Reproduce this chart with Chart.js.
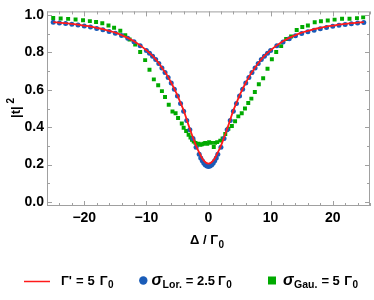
<!DOCTYPE html>
<html><head><meta charset="utf-8">
<script src="https://cdn.jsdelivr.net/npm/chart.js@4"></script>
<style>html,body{margin:0;padding:0;background:#fff}#c{display:block}</style>
</head><body>
<canvas id="c" width="374" height="300"></canvas>
<script>
// ---- data ----
const redX = [-25,-24,-23,-22,-21,-20,-19,-18,-17,-16,-15,-14,-13,-12,-11,-10,-9,-8,-7.5,-7,-6.5,-6,-5.5,-5,-4.5,-4,-3.5,-3,-2.5,-2,-1.5,-1,-0.5,0,0.5,1,1.5,2,2.5,3,3.5,4,4.5,5,5.5,6,6.5,7,7.5,8,9,10,11,12,13,14,15,16,17,18,19,20,21,22,23,24,25];
const redY = [0.963,0.96,0.957,0.953,0.949,0.944,0.939,0.932,0.925,0.916,0.906,0.893,0.878,0.86,0.838,0.812,0.782,0.742,0.718,0.695,0.668,0.638,0.605,0.57,0.53,0.49,0.44,0.39,0.345,0.30,0.265,0.232,0.212,0.205,0.212,0.232,0.265,0.30,0.345,0.39,0.44,0.49,0.53,0.57,0.605,0.638,0.668,0.695,0.718,0.742,0.782,0.812,0.838,0.86,0.878,0.893,0.906,0.916,0.925,0.932,0.939,0.944,0.949,0.953,0.957,0.96,0.963];

const blueX = [-25,-24,-23,-22,-21,-20,-19,-18,-17,-16,-15,-14,-13,-12,-11,-10,-9.5,-9,-8.5,-8,-7.5,-7,-6.5,-6,-5.5,-5,-4.5,-4,-3.5,-3,-2.5,-2,-1.5,-1.25,-1,-0.75,-0.5,-0.25,0,0.25,0.5,0.75,1,1.25,1.5,2,2.5,3,3.5,4,4.5,5,5.5,6,6.5,7,7.5,8,8.5,9,9.5,10,11,12,13,14,15,16,17,18,19,20,21,22,23,24,25];
const blueY = [0.962,0.958,0.955,0.951,0.947,0.942,0.936,0.929,0.922,0.913,0.903,0.891,0.876,0.858,0.836,0.81,0.796,0.78,0.762,0.741,0.717,0.693,0.666,0.636,0.603,0.567,0.527,0.486,0.436,0.386,0.34,0.293,0.255,0.235,0.22,0.207,0.197,0.192,0.19,0.192,0.197,0.207,0.22,0.235,0.255,0.293,0.34,0.386,0.436,0.486,0.527,0.567,0.603,0.636,0.666,0.693,0.717,0.741,0.762,0.78,0.796,0.81,0.836,0.856,0.874,0.889,0.902,0.911,0.919,0.927,0.934,0.94,0.946,0.95,0.954,0.958,0.961];

const greenX = [-25,-23.8,-22.6,-21.4,-20.2,-19.1,-18.1,-17.1,-16.1,-15.2,-14.2,-13.4,-12.7,-11.8,-11,-10.2,-9.5,-8.8,-8.1,-7.5,-7,-6.4,-5.8,-5.3,-4.9,-4.3,-4,-3.6,-3.2,-2.9,-2.65,-2.38,-2.1,-1.85,-1.6,-1.3,-1.06,-0.8,-0.53,-0.2,0.1,0.4,0.85,1.05,1.4,1.9,2.27,2.7,3.2,3.76,4.28,4.8,5.35,5.87,6.4,6.9,7.46,8.1,8.8,9.5,10.2,10.9,11.7,12.5,13.3,14.2,15.1,16,17.1,18.1,19.2,20.3,21.5,22.7,23.9,24.9];
const greenY = [0.985,0.982,0.98,0.977,0.973,0.968,0.963,0.957,0.945,0.933,0.916,0.892,0.869,0.843,0.803,0.759,0.708,0.656,0.625,0.593,0.562,0.52,0.484,0.475,0.449,0.42,0.397,0.38,0.36,0.345,0.333,0.323,0.316,0.306,0.311,0.306,0.308,0.311,0.316,0.311,0.32,0.316,0.294,0.316,0.32,0.328,0.34,0.363,0.392,0.406,0.432,0.458,0.475,0.50,0.53,0.553,0.588,0.63,0.662,0.713,0.764,0.803,0.834,0.872,0.886,0.92,0.936,0.945,0.962,0.967,0.971,0.976,0.981,0.981,0.984,0.988];

const xTicks = [-26,-24,-22,-20,-18,-16,-14,-12,-10,-8,-6,-4,-2,0,2,4,6,8,10,12,14,16,18,20,22,24,26];
const xLabels = [-20,-10,0,10,20];
const yTicks = [0,0.1,0.2,0.3,0.4,0.5,0.6,0.7,0.8,0.9,1.0];
const yLabels = [0,0.2,0.4,0.6,0.8,1.0];

const RED = '#ff1a1a', BLUE = '#1a5cb8', GREEN = '#00aa00';
const FONT = '"Liberation Sans", Arial, sans-serif';

function pts(xs, ys){ return xs.map((x,i)=>({x:x, y:ys[i]})); }
function isIn(arr, v){ return arr.some(a=>Math.abs(a-v)<1e-9); }

// sequential rich text: each piece followed by an extra gap
function rich(ctx, x, y, parts){
  let cx = x;
  for (const p of parts){
    ctx.font = (p.it?'italic ':'') + 'bold ' + p.s + 'px ' + FONT;
    ctx.fillText(p.t, cx, y + (p.dy||0));
    cx += ctx.measureText(p.t).width + (p.g||0);
  }
  return cx;
}

const decor = {
  id:'decor',
  afterDraw(chart){
    const ctx = chart.ctx, a = chart.chartArea;
    const xs = chart.scales.x, ys = chart.scales.y;
    ctx.save();
    ctx.strokeStyle = '#a0a0a0'; ctx.lineWidth = 1;
    ctx.strokeRect(a.left+0.5, a.top+0.5, a.right-a.left-1, a.bottom-a.top-1);
    ctx.beginPath();
    for (const v of xTicks){
      const px = Math.round(xs.getPixelForValue(v))+0.5;
      const L = isIn(xLabels,v) ? 5 : 3;
      ctx.moveTo(px, a.bottom); ctx.lineTo(px, a.bottom-L);
      ctx.moveTo(px, a.top); ctx.lineTo(px, a.top+L);
    }
    for (const v of yTicks){
      const py = Math.round(ys.getPixelForValue(v))+0.5;
      const L = isIn(yLabels,v) ? 5 : 3;
      ctx.moveTo(a.left, py); ctx.lineTo(a.left+L, py);
      ctx.moveTo(a.right, py); ctx.lineTo(a.right-L, py);
    }
    ctx.stroke();

    ctx.fillStyle = '#000'; ctx.textBaseline = 'alphabetic'; ctx.textAlign = 'left';
    // x title
    rich(ctx, 190, 244, [{t:'\u0394 / \u0393', s:13, g:0.5},{t:'0', s:10, dy:4}]);
    // y title
    ctx.save();
    ctx.translate(20, 118); ctx.rotate(-Math.PI/2);
    rich(ctx, 0, 0, [{t:'|t|', s:13, g:3},{t:'2', s:10, dy:-6}]);
    ctx.restore();

    // legend
    const ly = 285;
    ctx.strokeStyle = RED; ctx.lineWidth = 1.5;
    ctx.beginPath(); ctx.moveTo(24, 281.5); ctx.lineTo(50, 281.5); ctx.stroke();
    rich(ctx, 61, ly, [{t:'\u0393\'', s:13, g:4},{t:'=', s:13, g:4},{t:'5', s:13, g:5},{t:'\u0393', s:13, g:0.5},{t:'0', s:10, dy:3}]);
    ctx.fillStyle = BLUE;
    ctx.beginPath(); ctx.arc(143.3, 280.5, 4.2, 0, Math.PI*2); ctx.fill();
    ctx.fillStyle = '#000';
    rich(ctx, 151.5, ly, [{t:'\u03c3', s:16, it:true, g:0.5},{t:'Lor.', s:10.5, dy:3, g:4},{t:'=', s:13, g:3.5},{t:'2.5', s:13, g:3},{t:'\u0393', s:13, g:0.5},{t:'0', s:10, dy:3}]);
    ctx.fillStyle = GREEN;
    ctx.fillRect(268, 276.5, 8, 8);
    ctx.fillStyle = '#000';
    rich(ctx, 283, ly, [{t:'\u03c3', s:16, it:true, g:0.5},{t:'Gau.', s:10.5, dy:3, g:4},{t:'=', s:13, g:3.5},{t:'5', s:13, g:4.5},{t:'\u0393', s:13, g:0.5},{t:'0', s:10, dy:3}]);
    ctx.restore();
  }
};

new Chart(document.getElementById('c'), {
  type:'scatter',
  data:{ datasets:[
    { type:'line', label:'red', data:pts(redX, redY), borderColor:RED, borderWidth:1.8, pointRadius:0, fill:false, cubicInterpolationMode:'monotone' },
    { label:'blue', data:pts(blueX, blueY), backgroundColor:BLUE, borderColor:BLUE, borderWidth:0, pointRadius:2.5, pointStyle:'circle' },
    { label:'green', data:pts(greenX, greenY), backgroundColor:GREEN, borderColor:GREEN, borderWidth:0, pointRadius:2.8, pointStyle:'rect' }
  ]},
  options:{
    responsive:false, animation:false, events:[],
    layout:{ padding:{ left:0, right:1, top:5, bottom:0 } },
    plugins:{ legend:{display:false}, tooltip:{enabled:false} },
    scales:{
      x:{ type:'linear', min:-26, max:26,
          grid:{display:false, drawTicks:false}, border:{display:false},
          afterBuildTicks(s){ s.ticks = xTicks.map(v=>({value:v})); },
          afterFit(s){ s.height = 94; },
          ticks:{ autoSkip:false, maxRotation:0, padding:4, color:'#000',
                  font:{family:FONT, size:14, weight:'bold'},
                  callback:(v)=> isIn(xLabels,v) ? String(v).replace('-', '\u2212') : '' } },
      y:{ type:'linear', min:-0.022, max:1.02,
          grid:{display:false, drawTicks:false}, border:{display:false},
          afterBuildTicks(s){ s.ticks = yTicks.map(v=>({value:v})); },
          afterFit(s){ s.width = 47; },
          ticks:{ autoSkip:false, padding:3, color:'#000',
                  font:{family:FONT, size:14, weight:'bold'},
                  callback:(v)=> isIn(yLabels,v) ? v.toFixed(1) : '' } }
    }
  },
  plugins:[decor]
});
</script>
</body></html>
